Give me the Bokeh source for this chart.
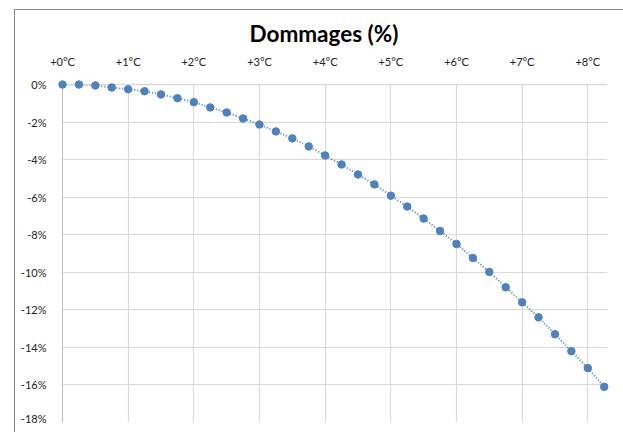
from bokeh.plotting import figure
from bokeh.layouts import column
from bokeh.models import FixedTicker, Range1d, LinearAxis, Title, Div
from bokeh.embed import file_html
from bokeh.resources import INLINE

# Data
temps = [0.0, 0.25, 0.5, 0.75, 1.0, 1.25, 1.5, 1.75, 2.0, 2.25, 2.5, 2.75,
         3.0, 3.25, 3.5, 3.75, 4.0, 4.25, 4.5, 4.75, 5.0, 5.25, 5.5, 5.75,
         6.0, 6.25, 6.5, 6.75, 7.0, 7.25, 7.5, 7.75, 8.0, 8.25]
damages = [0.0, 0.0, -0.05, -0.16, -0.25, -0.36, -0.53, -0.73, -0.94, -1.22, -1.49, -1.81,
           -2.13, -2.5, -2.87, -3.3, -3.78, -4.26, -4.79, -5.32, -5.92, -6.5, -7.14, -7.8,
           -8.49, -9.24, -9.98, -10.8, -11.6, -12.4, -13.3, -14.2, -15.1, -16.1]
x_ticks = [0, 1, 2, 3, 4, 5, 6, 7, 8]
x_labels = ["+0°C", "+1°C", "+2°C", "+3°C", "+4°C", "+5°C", "+6°C", "+7°C", "+8°C"]
y_ticks = [0, -2, -4, -6, -8, -10, -12, -14, -16, -18]
y_labels = ["0%", "-2%", "-4%", "-6%", "-8%", "-10%", "-12%", "-14%", "-16%", "-18%"]

FONT = "Lato"
BLUE = "#4f81bd"
GRID = "#d9d9d9"

p = figure(width=615, height=424, output_backend="svg", toolbar_location=None,
           x_range=Range1d(0, 8.3), y_range=Range1d(-18, 0),
           x_axis_location=None, y_axis_location=None,
           min_border_left=62, min_border_right=8, min_border_top=84, min_border_bottom=2)
p.outline_line_color = None
p.background_fill_color = "white"
p.border_fill_color = "white"

xaxis = LinearAxis(ticker=FixedTicker(ticks=x_ticks),
                   major_label_overrides={t: l for t, l in zip(x_ticks, x_labels)})
yaxis = LinearAxis(ticker=FixedTicker(ticks=y_ticks),
                   major_label_overrides={t: l for t, l in zip(y_ticks, y_labels)})
for ax in (xaxis, yaxis):
    ax.major_tick_line_color = None
    ax.minor_tick_line_color = None
    ax.major_label_text_font = FONT
    ax.major_label_text_font_size = "11px"
    ax.major_label_text_color = "#222222"
xaxis.major_label_standoff = 11
yaxis.major_label_standoff = 10
xaxis.axis_line_color = GRID
xaxis.axis_line_width = 1.5
yaxis.axis_line_color = "#bfbfbf"
p.add_layout(xaxis, "above")
p.add_layout(yaxis, "left")

p.xgrid.ticker = FixedTicker(ticks=x_ticks)
p.ygrid.ticker = FixedTicker(ticks=y_ticks)
p.xgrid.grid_line_color = GRID
p.ygrid.grid_line_color = GRID
p.xgrid.grid_line_width = 1.2
p.ygrid.grid_line_width = 1.2

p.line(temps, damages, line_color=BLUE, line_width=2, line_dash="1 2")
p.scatter(temps, damages, size=7.5, fill_color=BLUE, line_color=BLUE, level="overlay")

title = Title(text="Dommages (%)", align="left", offset=187, text_font=FONT,
              text_font_size="22.5px", text_font_style="bold", text_color="black")
p.add_layout(title, "above")

# chart-area border: only its left and top edges fall inside the cropped view
border = Div(text='<div style="position:fixed;left:14px;top:9px;width:700px;height:500px;'
                  'border-left:1px solid #868686;border-top:1px solid #868686;'
                  'pointer-events:none;z-index:10;"></div>',
             width=1, height=1)

layout = column(p, border, spacing=0)

open("out.html", "w").write(file_html(layout, INLINE))
